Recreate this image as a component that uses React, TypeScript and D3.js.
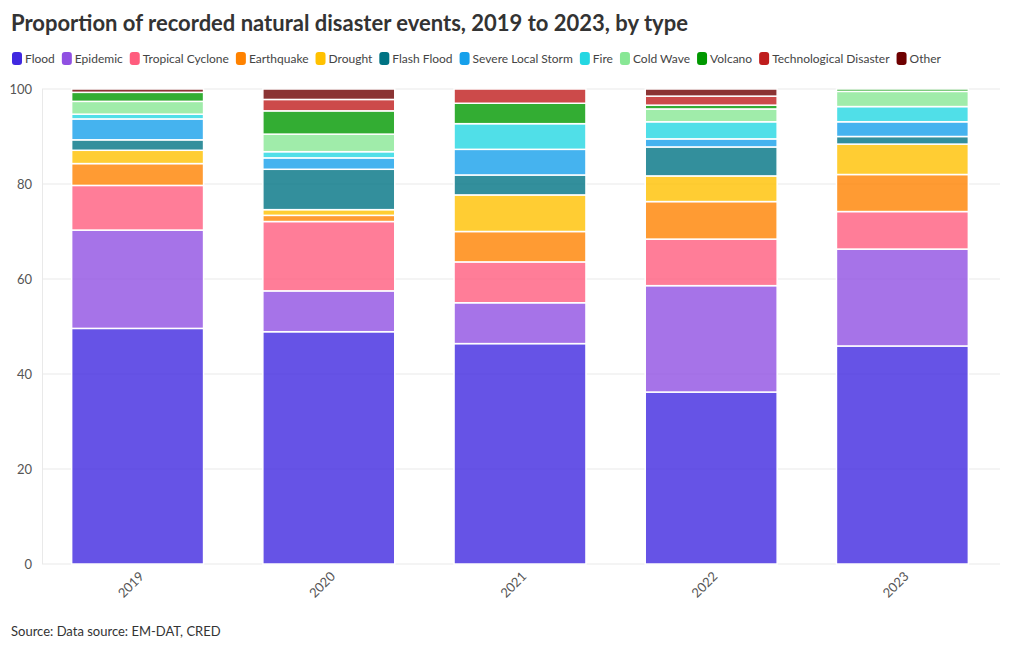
import React, { useEffect, useRef } from "react";
import * as d3 from "d3";

const years = ["2019", "2020", "2021", "2022", "2023"];
const categories = [
  "Flood", "Epidemic", "Tropical Cyclone", "Earthquake", "Drought", "Flash Flood",
  "Severe Local Storm", "Fire", "Cold Wave", "Volcano", "Technological Disaster", "Other",
];
const colors = [
  "#4028e0", "#9050e2", "#ff5d7e", "#ff8200", "#ffc100", "#007383",
  "#16a0eb", "#24d7e2", "#88e795", "#009800", "#bf1d1d", "#6e0000",
];
// values per category, one per year (percent)
const flood = [49.6, 48.9, 46.4, 36.2, 45.9];
const epidemic = [20.7, 8.6, 8.6, 22.4, 20.4];
const tropicalCyclone = [9.4, 14.6, 8.6, 9.8, 7.9];
const earthquake = [4.6, 1.3, 6.4, 7.9, 7.8];
const drought = [2.8, 1.2, 7.7, 5.4, 6.4];
const flashFlood = [2.2, 8.5, 4.2, 6.1, 1.6];
const severeLocalStorm = [4.4, 2.4, 5.4, 1.7, 3.1];
const fire = [1.0, 1.3, 5.4, 3.6, 3.2];
const coldWave = [2.7, 3.7, 0, 2.7, 3.2];
const volcano = [1.9, 4.9, 4.3, 0.8, 0.5];
const technological = [0, 2.4, 3.0, 1.9, 0];
const other = [0.7, 2.2, 0, 1.5, 0];
const seriesValues = [
  flood, epidemic, tropicalCyclone, earthquake, drought, flashFlood,
  severeLocalStorm, fire, coldWave, volcano, technological, other,
];
const yTicks = [0, 20, 40, 60, 80, 100];

const FONT = "Lato, 'Noto Sans', sans-serif";

export default function App() {
  const ref = useRef<SVGSVGElement | null>(null);

  useEffect(() => {
    const svg = d3.select(ref.current);
    svg.selectAll("*").remove();

    const rows = years.map((yr, i) => {
      const o: any = { year: yr };
      categories.forEach((c, k) => (o[c] = seriesValues[k][i]));
      return o;
    });
    const stack = d3.stack<any>().keys(categories)(rows);

    const x = d3.scaleBand<string>().domain(years).range([42, 998]).paddingInner(0.31).paddingOuter(0.155);
    const y = d3.scaleLinear().domain([0, 100]).range([564, 89]);
    const color = d3.scaleOrdinal<string, string>().domain(categories).range(colors);

    // title
    svg.append("text")
      .attr("x", 11).attr("y", 31)
      .attr("font-family", FONT).attr("font-weight", 700).attr("font-size", 22)
      .attr("fill", "#333")
      .text("Proportion of recorded natural disaster events, 2019 to 2023, by type");

    // legend
    const lg = svg.append("g");
    let lx = 12;
    categories.forEach((c) => {
      const g = lg.append("g").attr("transform", `translate(${lx},0)`);
      g.append("rect").attr("x", 0).attr("y", 52).attr("width", 10).attr("height", 13)
        .attr("rx", 3).attr("fill", color(c));
      const t = g.append("text").attr("x", 13).attr("y", 62.5)
        .attr("font-family", FONT).attr("font-size", 12).attr("fill", "#444").text(c);
      const w = (t.node() as SVGTextElement).getComputedTextLength();
      lx += 13 + w + 7;
    });

    // grid
    const grid = svg.append("g");
    yTicks.forEach((t) => {
      grid.append("line").attr("x1", 42).attr("x2", 1000).attr("y1", y(t)).attr("y2", y(t))
        .attr("stroke", "#e9e9e9").attr("stroke-width", 1);
      svg.append("text").attr("x", 32).attr("y", y(t)).attr("dy", "0.35em")
        .attr("text-anchor", "end").attr("font-family", FONT).attr("font-size", 13)
        .attr("fill", "#555").text(t);
    });
    grid.append("line").attr("x1", 42.5).attr("x2", 42.5).attr("y1", y(100)).attr("y2", y(0))
      .attr("stroke", "#e9e9e9");

    // bars
    stack.forEach((s) => {
      svg.append("g").attr("fill", color(s.key)).attr("fill-opacity", 0.8)
        .selectAll("rect")
        .data(s.filter((d) => d[1] - d[0] > 0))
        .join("rect")
        .attr("x", (d) => x(d.data.year)!)
        .attr("width", x.bandwidth())
        .attr("y", (d) => y(d[1]))
        .attr("height", (d) => y(d[0]) - y(d[1]))
        .attr("stroke", "#fff").attr("stroke-width", 1.5);
    });

    // x labels
    years.forEach((yr) => {
      const cx = x(yr)! + x.bandwidth() / 2;
      svg.append("text")
        .attr("transform", `translate(${cx + 4},${574}) rotate(-45)`)
        .attr("text-anchor", "end").attr("dy", "0.35em")
        .attr("font-family", FONT).attr("font-size", 13).attr("fill", "#555").text(yr);
    });

    // source
    svg.append("text").attr("x", 11).attr("y", 636)
      .attr("font-family", FONT).attr("font-size", 13).attr("fill", "#333")
      .text("Source: Data source: EM-DAT, CRED");
  }, []);

  return (
    <svg ref={ref} width={1020} height={650}
      style={{ position: "absolute", left: 0, top: 0, background: "#fff" }} />
  );
}
